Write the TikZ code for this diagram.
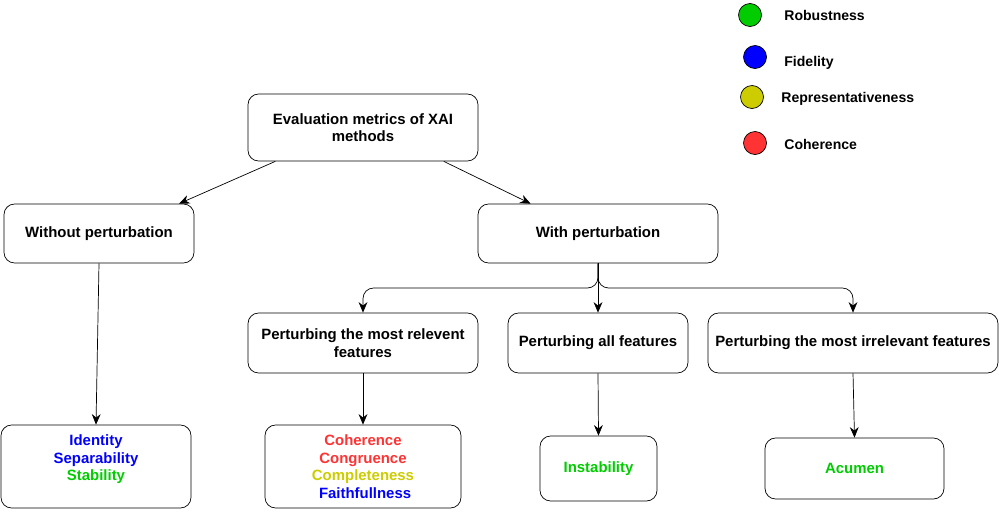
\documentclass[tikz,border=0pt]{standalone}
\usepackage{fontspec}
\setmainfont{Liberation Sans}
\usetikzlibrary{arrows.meta, positioning, calc}
\definecolor{robgreen}{RGB}{0,204,0}
\definecolor{fidblue}{RGB}{0,0,255}
\definecolor{repyellow}{RGB}{204,204,0}
\definecolor{cohred}{RGB}{255,51,51}

\tikzset{
  box/.style={draw, rounded corners=6pt, align=center, inner sep=0pt,
    font=\fontsize{8.5}{10}\selectfont\bfseries},
  arr/.style={-{Stealth[length=6pt,width=5pt]}},
  dot/.style={draw, circle, minimum size=0.46cm, inner sep=0pt},
  key/.style={right, inner sep=0pt, font=\fontsize{8}{10}\selectfont\bfseries}
}

\begin{document}
\begin{tikzpicture}[x=0.02cm, y=-0.02cm]
\useasboundingbox (0,0) rectangle (999,521);

  % Tree
  \node[box, minimum width=4.6cm, minimum height=1.34cm] (root) at (363,127.5)
    {Evaluation metrics of XAI\\methods};
  \node[box, minimum width=3.8cm, minimum height=1.18cm] (without) at (99,233.5)
    {Without perturbation};
  \node[box, minimum width=4.8cm, minimum height=1.18cm] (with) at (598,233.5)
    {With perturbation};

  \node[box, minimum width=4.6cm, minimum height=1.2cm] (relevant) at (363,343)
    {Perturbing the most relevent\\features};
  \node[box, minimum width=3.6cm, minimum height=1.2cm] (all) at (598,343)
    {Perturbing all features};
  \node[box, minimum width=5.8cm, minimum height=1.2cm] (irrelevant) at (853,343)
    {Perturbing the most irrelevant features};

  % Leaves (metrics)
  \node[box, minimum width=3.8cm, minimum height=1.66cm] (idbox) at (96,466.5)
    {\textcolor{fidblue}{Identity}\\\textcolor{fidblue}{Separability}\\
     \textcolor{robgreen}{Stability}\\\mbox{}};
  \node[box, minimum width=3.92cm, minimum height=1.66cm] (cohbox) at (363,466.5)
    {\textcolor{cohred}{Coherence}\\\textcolor{cohred}{Congruence}\\
     \textcolor{repyellow}{Completeness}\\\textcolor{fidblue}{\ Faithfullness}};
  \node[box, minimum width=2.34cm, minimum height=1.3cm] (instab) at (598.5,468.5)
    {\textcolor{robgreen}{Instability}};
  \node[box, minimum width=3.58cm, minimum height=1.22cm] (acumen) at (854.5,468.5)
    {\textcolor{robgreen}{Acumen}};

  % Connectors
  \draw[arr] ($(root.south west)!0.12!(root.south east)$) -- ($(without.north east)!0.08!(without.north west)$);
  \draw[arr] ($(root.south west)!0.85!(root.south east)$) -- ($(with.north west)!0.22!(with.north east)$);
  \draw[arr] (without.south) -- (idbox.north);

  \coordinate (split) at (598,288);
  \draw[arr] (with.south) -- (all.north);
  \draw[arr, rounded corners=6pt] (with.south) -- (split) -| (relevant.north);
  \draw[arr, rounded corners=6pt] (with.south) -- (split) -| (irrelevant.north);

  \draw[arr] (relevant.south) -- (cohbox.north);
  \draw[arr] (all.south) -- (instab.north);
  \draw[arr] (irrelevant.south) -- (acumen.north);

  % Legend
  \foreach \c/\xx/\yy/\lx/\ly/\lbl in {robgreen/750/15/784/15/Robustness,
      fidblue/755/57/784/63/Fidelity,
      repyellow/752/97/781/99/Representativeness,
      cohred/755/143/784/144/Coherence}
  {
    \node[dot, fill=\c] (dot-\lbl) at (\xx,\yy) {};
    \node[key] (key-\lbl) at (\lx,\ly) {\lbl};
  }
\end{tikzpicture}
\end{document}
